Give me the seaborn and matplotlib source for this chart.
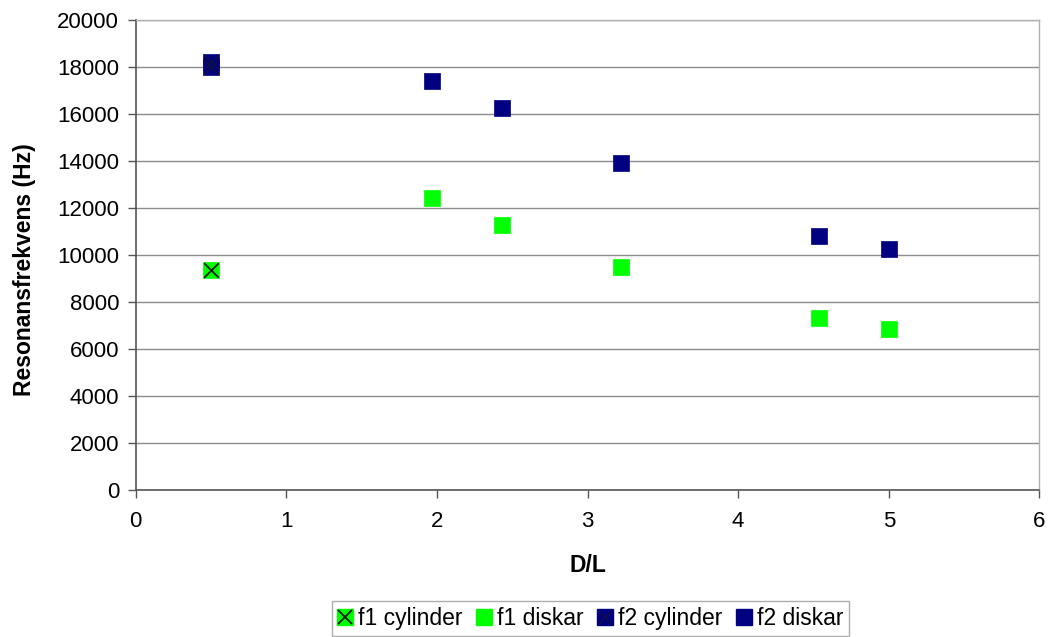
import matplotlib
matplotlib.use("Agg")
import matplotlib.pyplot as plt
import seaborn as sns
import pandas as pd
from matplotlib.legend_handler import HandlerTuple
from matplotlib.lines import Line2D

# Data
f1_cyl_x = [0.5]
f1_cyl_y = [9350]
f1_disk_x = [1.97, 2.43, 3.22, 4.54, 5.0]
f1_disk_y = [12400, 11250, 9500, 7300, 6850]
f2_cyl_x = [0.5, 0.5]
f2_cyl_y = [18000, 18200]
f2_disk_x = [1.97, 2.43, 3.22, 4.54, 5.0]
f2_disk_y = [17400, 16250, 13900, 10800, 10250]
labels = ["f1 cylinder", "f1 diskar", "f2 cylinder", "f2 diskar"]

GREEN = "#00FF00"
NAVY = "#000080"

sns.set_style("white")
plt.rcParams["font.family"] = ["Liberation Sans", "DejaVu Sans"]
plt.rcParams["text.color"] = "black"
plt.rcParams["axes.labelcolor"] = "black"
plt.rcParams["xtick.color"] = "#555555"
plt.rcParams["ytick.color"] = "#555555"
plt.rcParams["xtick.labelcolor"] = "black"
plt.rcParams["ytick.labelcolor"] = "black"

fig = plt.figure(figsize=(10.52, 6.37), dpi=100)
ax = fig.add_axes([0.129, 0.231, 0.859, 0.738])

ms = 140
sns.scatterplot(x=f2_cyl_x, y=f2_cyl_y, ax=ax, marker="s", s=ms, color=NAVY,
                edgecolor=NAVY, linewidth=0.5, zorder=3)
sns.scatterplot(x=f2_cyl_x, y=f2_cyl_y, ax=ax, marker="x", s=ms * 0.8, color="#101040",
                linewidth=1.0, zorder=4)
sns.scatterplot(x=f1_cyl_x, y=f1_cyl_y, ax=ax, marker="s", s=ms, color=GREEN,
                edgecolor=GREEN, linewidth=0.5, zorder=3)
sns.scatterplot(x=f1_cyl_x, y=f1_cyl_y, ax=ax, marker="x", s=ms * 0.8, color="#1a1a1a",
                linewidth=1.3, zorder=4)
sns.scatterplot(x=f1_disk_x, y=f1_disk_y, ax=ax, marker="s", s=ms, color=GREEN,
                edgecolor=GREEN, linewidth=0.5, zorder=3)
sns.scatterplot(x=f2_disk_x, y=f2_disk_y, ax=ax, marker="s", s=ms, color=NAVY,
                edgecolor=NAVY, linewidth=0.5, zorder=3)

ax.set_xlim(0, 6)
ax.set_ylim(0, 20000)
ax.set_xticks(range(0, 7))
ax.set_yticks(range(0, 20001, 2000))
ax.yaxis.grid(True, color="#8c8c8c", linewidth=1.0)
ax.set_axisbelow(True)
for side in ["top", "right"]:
    ax.spines[side].set_color("#b0b0b0")
    ax.spines[side].set_linewidth(1.0)
for side in ["left", "bottom"]:
    ax.spines[side].set_color("#555555")
    ax.spines[side].set_linewidth(1.2)
ax.tick_params(axis="both", direction="out", length=6, width=1,
               labelsize=16, left=True, bottom=True)
ax.tick_params(axis="y", pad=6)
ax.tick_params(axis="x", pad=9)
ax.set_xlabel("D/L", fontsize=16.5, fontweight="bold", labelpad=16)
ax.set_ylabel("Resonansfrekvens (Hz)", fontsize=16.5, fontweight="bold")
ax.yaxis.set_label_coords(-0.110, 0.468)

sq_ms = 12
h_f1c = (Line2D([], [], marker="s", ls="", color=GREEN, markersize=sq_ms),
         Line2D([], [], marker="x", ls="", color="#1a1a1a", markersize=sq_ms * 0.85, mew=1.3))
h_f1d = Line2D([], [], marker="s", ls="", color=GREEN, markersize=sq_ms)
h_f2c = (Line2D([], [], marker="s", ls="", color=NAVY, markersize=sq_ms),
         Line2D([], [], marker="x", ls="", color="#101040", markersize=sq_ms * 0.85, mew=1.0))
h_f2d = Line2D([], [], marker="s", ls="", color=NAVY, markersize=sq_ms)
leg = fig.legend([h_f1c, h_f1d, h_f2c, h_f2d], labels,
                 handler_map={tuple: HandlerTuple(ndivide=1)},
                 loc="lower center", bbox_to_anchor=(0.561, 0.0), ncol=4,
                 fontsize=16.5, frameon=True, fancybox=False, edgecolor="#999999",
                 handlelength=0.7, handletextpad=0.2, columnspacing=0.6,
                 borderpad=0.25, borderaxespad=0.05)
leg.get_frame().set_linewidth(1.0)

fig.savefig("out.png", dpi=100, facecolor="white")
